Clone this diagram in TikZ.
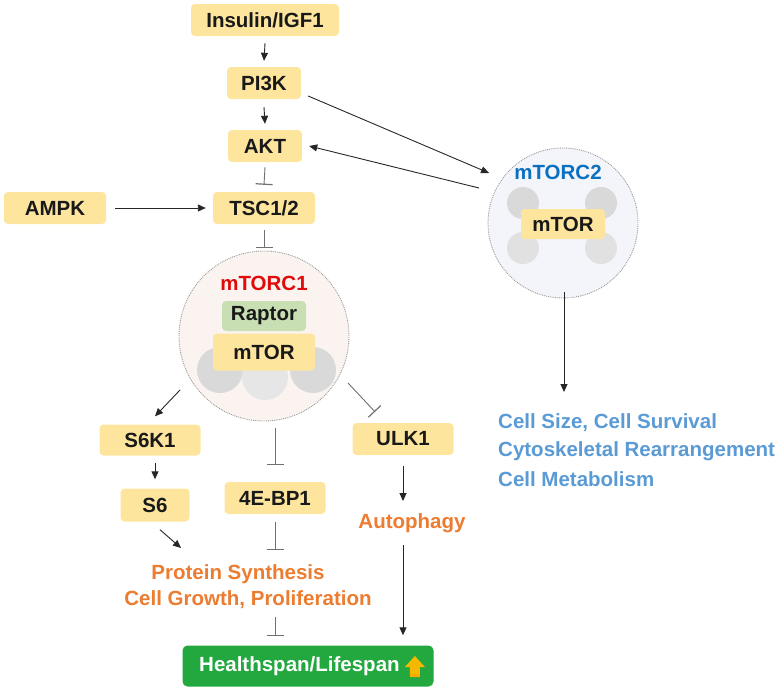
\documentclass[tikz,border=0pt]{standalone}
\usepackage{fontspec}
\setmainfont{Liberation Sans}
\usetikzlibrary{arrows.meta}
\definecolor{boxyel}{HTML}{FDE59E}
\definecolor{raptorgreen}{HTML}{C8DFB4}
\definecolor{peach}{HTML}{FBF3EF}
\definecolor{paleblue}{HTML}{F3F5FA}
\definecolor{subgray}{HTML}{D9D9D9}
\definecolor{subgraylt}{HTML}{E6E6E6}
\definecolor{orangetxt}{HTML}{EC7C30}
\definecolor{bluetxt}{HTML}{5B9BD5}
\definecolor{mtorctwo}{HTML}{0A70C0}
\definecolor{mtorcone}{HTML}{E00A0A}
\definecolor{healthgreen}{HTML}{22A83F}
\definecolor{uparrow}{HTML}{F5B800}
\definecolor{inhgray}{HTML}{707070}
\tikzset{
  pbox/.style={draw=none, fill=boxyel, rounded corners=4pt, minimum height=32pt, inner sep=0pt, font=\fontsize{20.5}{24}\selectfont\bfseries, text=black!90},
  otext/.style={inner sep=0pt, font=\fontsize{20.5}{24}\selectfont\bfseries, text=orangetxt},
  btext/.style={inner sep=0pt, anchor=west, font=\fontsize{20.5}{24}\selectfont\bfseries, text=bluetxt},
  arr/.style={draw=black!85, line width=0.9pt, -{Triangle[length=8pt,width=7pt]}},
  inh/.style={draw=inhgray, line width=0.9pt, -{Bar[width=17pt,line width=1.2pt]}},
  cplx/.style={draw=gray!80, densely dotted, line width=0.9pt},
}
\begin{document}
\begin{tikzpicture}[x=1pt,y=-1pt]
\useasboundingbox (0,0) rectangle (780,691);
% complexes
\node[cplx, circle, fill=peach, minimum size=170pt, inner sep=0pt] (c1) at (264,336) {};
\fill[subgray] (220,370) circle (23);
\fill[subgray] (313,370) circle (23);
\fill[subgraylt] (265,377) circle (23);
\node[cplx, circle, fill=paleblue, minimum size=150pt, inner sep=0pt] (c2) at (563,223) {};
\fill[subgray] (523,203) circle (16);
\fill[subgray] (601,203) circle (16);
\fill[subgray!80] (523,248) circle (16);
\fill[subgray!80] (601,248) circle (16);
% labels in complexes
\node[inner sep=0pt, font=\fontsize{20.5}{24}\selectfont\bfseries, text=mtorcone] (c1lab) at (264,283) {mTORC1};
\node[pbox, fill=raptorgreen, minimum width=84pt, minimum height=30pt] (raptor) at (264,316) {Raptor};
\node[pbox, minimum width=102pt, minimum height=37pt] (mtor1) at (264,352) {mTOR};
\node[inner sep=0pt, font=\fontsize{20.5}{24}\selectfont\bfseries, text=mtorctwo] (c2lab) at (558,172) {mTORC2};
\node[pbox, minimum width=84pt, minimum height=30pt] (mtor2) at (563,224) {mTOR};
% boxes
\node[pbox, minimum width=148pt] (ins) at (265,20) {Insulin/IGF1};
\node[pbox, minimum width=74pt] (pi3k) at (264,83) {PI3K};
\node[pbox, minimum width=74pt] (akt) at (265,146) {AKT};
\node[pbox, minimum width=102pt] (ampk) at (55,208) {AMPK};
\node[pbox, minimum width=102pt] (tsc) at (264,208) {TSC1/2};
\node[pbox, minimum width=101pt, minimum height=31pt] (s6k1) at (150,440) {S6K1};
\node[pbox, minimum width=69pt, minimum height=33pt] (s6) at (155,505) {S6};
\node[pbox, minimum width=101pt] (ebp) at (275,498) {4E-BP1};
\node[pbox, minimum width=101pt] (ulk1) at (403,439) {ULK1};
% texts
\node[otext] (aut) at (412,523) {Autophagy};
\node[otext] (prot1) at (238,574) {Protein Synthesis};
\node[otext] (prot2) at (248,600) {Cell Growth, Proliferation};
\node[btext] (cs1) at (498,423) {Cell Size, Cell Survival};
\node[btext] (cs2) at (498,451) {Cytoskeletal Rearrangement};
\node[btext] (cs3) at (498,479) {Cell Metabolism};
% healthspan
\node[fill=healthgreen, rounded corners=5pt, minimum width=251pt, minimum height=41pt, inner sep=0pt] (health) at (308,666) {};
\node[inner sep=0pt, font=\fontsize{20.5}{24}\selectfont\bfseries, text=white, anchor=west] (htext) at (199,666) {Healthspan/Lifespan};
\fill[uparrow] ([shift={(10,11)}]htext.east) -- ++(0,-10) -- ++(-5,0) -- ++(10,-11) -- ++(10,11) -- ++(-5,0) -- ++(0,10) -- cycle;
\fill[uparrow!75!orange] ([shift={(10,11)}]htext.east) rectangle ++(10,-3);
% connectors
\draw[arr] ([shift={(0,7)}]ins.south) -- ([shift={(0,-6)}]pi3k.north);
\draw[arr] ([shift={(0,8)}]pi3k.south) -- ([shift={(0,-6)}]akt.north);
\draw[inh] ([shift={(0,5)}]akt.south) -- ([shift={(0,-7)}]tsc.north);
\draw[arr] ([shift={(9,0)}]ampk.east) -- ([shift={(-7,0)}]tsc.west);
\draw[inh] ([shift={(0,6)}]tsc.south) -- ([shift={(0,-88)}]c1.center);
\draw[arr] ([shift={(7,13)}]pi3k.east) -- ([shift={(-74,-50)}]c2.center);
\draw[arr] ([shift={(-84,-35)}]c2.center) -- ([shift={(7,0)}]akt.east);
\draw[arr] ([shift={(1,69)}]c2.center) -- ([shift={(1,169)}]c2.center);
\draw[arr] ([shift={(-84,54)}]c1.center) -- ([shift={(5,-8)}]s6k1.north);
\draw[inh] ([shift={(11,92)}]c1.center) -- ([shift={(0,-17)}]ebp.north);
\draw[inh] ([shift={(84,47)}]c1.center) -- ([shift={(-28,-11)}]ulk1.north);
\draw[arr] ([shift={(5,7)}]s6k1.south) -- ([shift={(0,-9)}]s6.north);
\draw[arr] ([shift={(5,8)}]s6.south) -- ([shift={(-57,-26)}]prot1.center);
\draw[inh] ([shift={(0,8)}]ebp.south) -- ([shift={(0,36)}]ebp.south);
\draw[arr] ([shift={(0,11)}]ulk1.south) -- ([shift={(-9,-22)}]aut.center);
\draw[arr] ([shift={(-9,22)}]aut.center) -- ([shift={(95,-10)}]health.north);
\draw[inh] ([shift={(-33,-28)}]health.north) -- ([shift={(-33,-9)}]health.north);
\end{tikzpicture}
\end{document}
